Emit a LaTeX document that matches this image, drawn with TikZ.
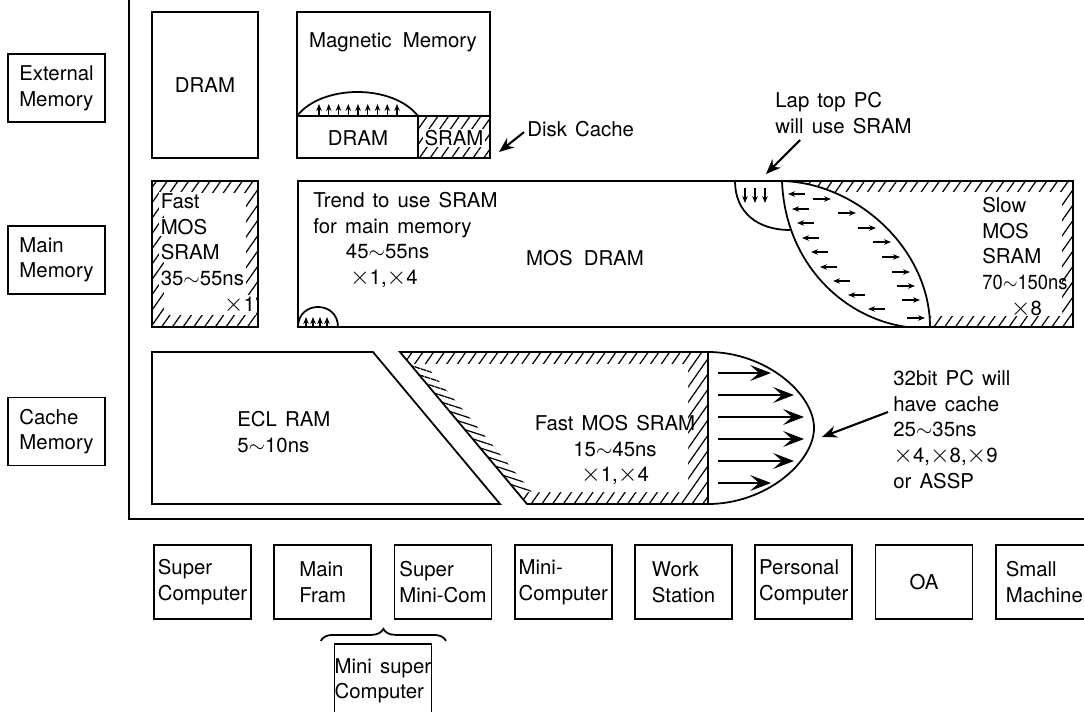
\documentclass[tikz,border=0pt]{standalone}
\usepackage{fontspec}
\setmainfont{TeX Gyre Heros}
\usetikzlibrary{arrows.meta, positioning, calc, patterns.meta, decorations.pathreplacing}
\tikzset{
  axisline/.style={line width=1.1pt},
  outl/.style={draw, line width=1pt},
  lblbox/.style={draw, line width=1pt, minimum width=19.4mm, minimum height=13.6mm, align=left, inner sep=1pt},
  compbox/.style={draw, line width=1pt, minimum width=19.4mm, minimum height=14.8mm, align=left, inner xsep=0pt, inner ysep=1pt},
  txt/.style={align=left, inner sep=0pt},
  hatch/.style={pattern={Lines[angle=55,distance=5pt,line width=0.7pt]}},
  hatchb/.style={pattern={Lines[angle=-18,distance=3.6pt,line width=0.7pt]}},
  tinyarr/.style={-{Stealth[length=1.4mm,width=1.1mm]}, line width=0.6pt},
  bigarr/.style={-{Stealth[length=4.2mm,width=3.2mm,inset=1.8mm]}, line width=1pt},
  callout/.style={-{Stealth[length=3mm,width=2.4mm,inset=1mm]}, line width=1.2pt},
  grpbrace/.style={decorate, decoration={brace, amplitude=2.4mm}, line width=1pt}
}
\newcommand{\wv}{$\sim$}
\newcommand{\tms}{{\fontsize{15.5}{14.6}\selectfont$\times$}}
\newcommand{\wb}[1]{{\setlength{\fboxsep}{0.8pt}\colorbox{white}{#1}}}

\begin{document}
\begin{tikzpicture}[x=0.2mm, y=-0.2mm, font={\fontsize{11.6}{14.6}\selectfont\spaceskip=.4em plus .1em\relax}]
\useasboundingbox (0,0) rectangle (1084,711);

% axes
\coordinate (corner) at (129,519);
\draw[axisline] (129,0) -- (corner) -- (1084,519);

% row labels
\node[lblbox] (ext) at (56.5,88) {External\\Memory};
\node[lblbox, below=20.4mm of ext] (mainm) {Main\\Memory};
\node[lblbox, below=20.4mm of mainm] (cachem) {Cache\\Memory};

% external memory row
\draw[outl] (152,12) rectangle (258,158);
\node (dram) at (205,85) {DRAM};
\path[hatch] (418,116) rectangle (490,158);
\draw[outl] (297,12) rectangle (490,158);
\draw[outl] (297,116) -- (490,116) (418,116) -- (418,158);
\draw[outl] (297,116) .. controls (322,84) and (393,84) .. (418,116);
\foreach \i in {0,...,8} \draw[tinyarr] (319+9.75*\i,116) -- ++(0,-12);
\node (magn) at (393,42) {Magnetic\hspace{.15em} Memory};
\node (ddram) at (358,138) {DRAM};
\node[inner sep=0pt] (dsram) at (454,138) {\wb{SRAM}};
\node[txt, anchor=north west] (disk) at (527,121) {Disk Cache};
\coordinate (dctip) at (499,152);
\draw[callout] ([shift={(-3,3)}]disk.west) -- (dctip);
\node[txt, anchor=north west] (laptop) at (775,92) {Lap top PC\\will use SRAM};
\coordinate (lptip) at (766,174);
\draw[callout] ($(laptop.north west)+(25,48)$) -- (lptip);

% main memory row
\path[hatch] (152,181) rectangle (258,327);
\fill[white] (164,193) rectangle (246,315);
\draw[outl] (152,181) rectangle (258,327);
\node[txt, anchor=north west] (fmos) at (159,192) {\wb{Fast}\\\wb{MOS}\\\wb{SRAM}\\\wb{35\wv55ns}\\\hspace*{3.1em}\wb{\tms1}};
\begin{scope}
  \clip (782,181) .. controls (858,183) and (930,250) .. (930,327) -- (1073,327) -- (1073,181) -- cycle;
  \path[hatch] (770,181) rectangle (1073,327);
  \fill[white] (770,192) rectangle (1062,316);
\end{scope}
\draw[outl] (298,181) rectangle (1073,327);
\draw[outl] (298,327) .. controls (298,300.3) and (338,300.3) .. (338,327);
\foreach \x in {306,313,320,327} \draw[tinyarr] (\x,327) -- ++(0,-10);
\draw[outl] (735,181) .. controls (735,212) and (757,230) .. (790,230);
\foreach \x in {745,755,765} \draw[tinyarr] (\x,188) -- ++(0,15);
\draw[outl] (782,181) .. controls (785,262) and (842,318) .. (907,327);
\draw[outl] (782,181) .. controls (858,183) and (930,250) .. (930,327);
\foreach \x/\y in {788/194, 792/209, 797/223, 802/238, 811/252, 820/267, 833/281, 848/295, 868/309}
  \draw[tinyarr] (\x+17,\y) -- (\x,\y);
\foreach \x/\y in {813/199, 838/213, 858/228, 873/242, 882/257, 892/272, 897/286, 902/300, 907/318}
  \draw[tinyarr] (\x,\y) -- (\x+18,\y);
\node[txt, anchor=north west] (trend) at (313,192) {Trend to use SRAM\\for main memory\\\hspace*{1.6em}45\wv55ns\\\hspace*{1.8em}\tms1,\tms4};
\node (mosdram) at (585,258) {MOS\hspace{.15em} DRAM};
\node[txt, anchor=north west] (slow) at (982,197) {Slow\\MOS\\SRAM\\\scalebox{.9}[1]{70\wv150ns}\\\hspace*{1.4em}\tms8};

% cache memory row
\draw[outl] (152,352) -- (373,352) -- (500,504) -- (152,504) -- cycle;
\node[txt, anchor=north west] (ecl) at (237,411) {ECL RAM\\5\wv10ns};
\begin{scope}
  \clip (400,352) -- (708,352) -- (708,504) -- (527,504) -- cycle;
  \path[hatch] (390,350) rectangle (710,506);
  \fill[white] (390,364) -- (425,364) -- (532,492) -- (390,492) -- cycle;
  \path[hatchb] (390,364) -- (425,364) -- (532,492) -- (390,492) -- cycle;
  \fill[white] (425,364) -- (688,364) -- (688,492) -- (532,492) -- cycle;
\end{scope}
\draw[outl] (527,504) -- (400,352) -- (708,352)
  .. controls (766,352) and (814,394) .. (814,428)
  .. controls (814,462) and (766,504) .. (708,504) -- cycle;
\draw[outl] (708,352) -- (708,504);
\foreach \y/\e in {373/771, 395/794, 417/804, 439/804, 461/794, 483/771}
  \draw[bigarr] (718,\y) -- (\e,\y);
\node[align=center, anchor=north, inner sep=0pt] (csram) at (615,415) {Fast MOS SRAM\\15\wv45ns\\\tms1,\tms4};
\node[txt, anchor=north west] (bit) at (893,370) {32bit PC will\\have cache\\25\wv35ns\\\tms4,\tms8,\tms9\\or ASSP};
\coordinate (bittip) at (822,437);
\draw[callout] ($(bit.north west)+(-5,42)$) -- (bittip);

% machines
\node[compbox] (supc) at (202.5,582) {Super\\Computer};
\node[compbox, right=4.3mm of supc] (mfr) {Main\\Fram};
\node[compbox, right=4.3mm of mfr] (smc) {Super\\Mini-Com};
\node[compbox, right=4.3mm of smc] (minic) {Mini-\\Computer};
\node[compbox, right=4.3mm of minic] (ws) {Work\\Station};
\node[compbox, right=4.3mm of ws] (pc) {Personal\\Computer};
\node[compbox, right=4.3mm of pc] (oa) {OA};
\node[compbox, right=4.3mm of oa] (smm) {Small\\Machine};
\draw[grpbrace] ($(mfr.south)+(-2,21)$) -- ($(smc.south)+(3,21)$);
\node[compbox, anchor=north] (msc) at ($(mfr.south)!.5!(smc.south)+(0,23)$) {Mini super\\Computer};
\end{tikzpicture}
\end{document}
